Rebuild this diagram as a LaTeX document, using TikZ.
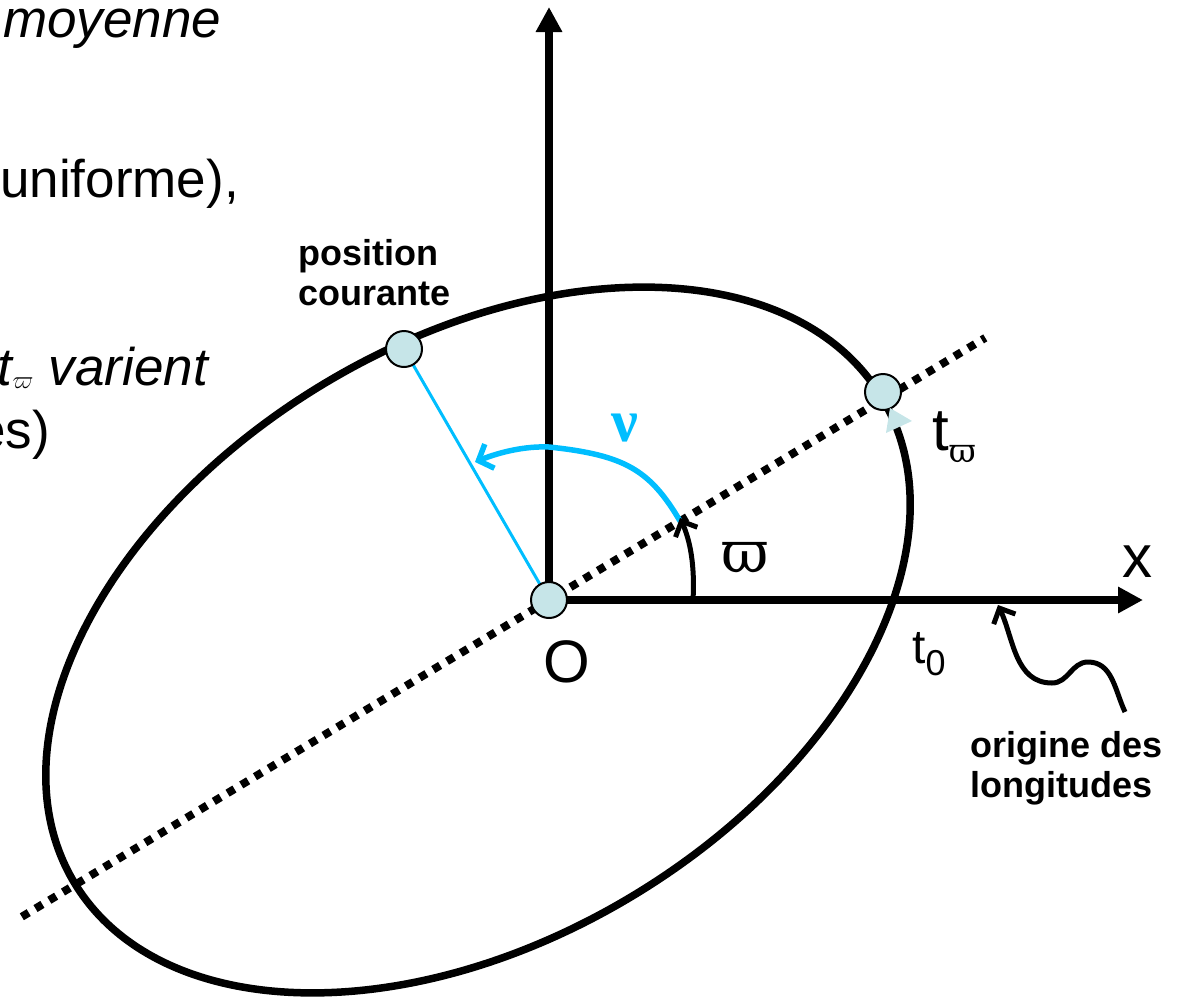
\documentclass[tikz,border=0pt]{standalone}
\usepackage{fontspec}
\setmainfont{Liberation Sans}
\newfontfamily\greekfont{DejaVu Serif}
\newfontfamily\nufont{Liberation Serif}
\usepackage{xcolor}
\usepackage{tikz}
\usetikzlibrary{arrows.meta, positioning, calc}

\definecolor{nucyan}{RGB}{0,190,255}
\definecolor{dotcyan}{RGB}{198,229,232}

\begin{document}
\begin{tikzpicture}[
    x=1pt, y=1pt,
    orbit/.style={draw=black, line width=7.5pt},
    axisline/.style={line width=8pt, -{Triangle[length=25pt, width=25pt]}},
    apsides/.style={line width=8pt, dash pattern=on 8pt off 8pt},
    body/.style={circle, draw=black, line width=2pt, fill=dotcyan, minimum size=36pt, inner sep=0pt},
    anglearc/.style={line width=5pt, -{Straight Barb[length=12pt, width=24pt]}},
    nuarc/.style={draw=nucyan, line width=5.5pt, -{Straight Barb[length=12pt, width=26pt]}},
    bigtxt/.style={font=\fontsize{60}{66}\selectfont, inner sep=0pt},
    sidetxt/.style={font=\fontsize{53}{60}\selectfont, inner sep=0pt},
    tag/.style={font=\fontsize{36}{40}\selectfont\bfseries, align=left, inner sep=0pt}
]
    \useasboundingbox (0,0) rectangle (1187,-997);

    % text running in from the left margin
    \node[sidetxt, anchor=base west] (moy) at (3,-37) {\itshape moyenne};
    \node[sidetxt, anchor=base west] (unif) at (0,-197) {uniforme),};
    \node[sidetxt, anchor=base east] (vari) at (208,-385) {\itshape t$_{\varpi}$ varient};
    \node[sidetxt, anchor=base east] (paren) at (50,-448) {es)};

    % orbit and line of apsides
    \coordinate (O) at (549,-600);
    \draw[orbit, rotate around={31:(478,-640)}] (478,-640) ellipse [x radius=471, y radius=299];
    \coordinate (apsA) at ($(O)+(31:509)$);
    \coordinate (apsB) at ($(O)+(211:615)$);
    \draw[apsides] (apsB) -- (apsA);

    % axes
    \coordinate (ytip) at (549,-7);
    \coordinate (xtip) at (1143,-600);
    \draw[axisline] (O) -- (ytip);
    \draw[axisline] (O) -- (xtip);

    % radius vector and angles
    \coordinate (nustart) at ($(O)+(31:153)$);
    \draw[draw=nucyan, line width=3pt] (O) -- (404,-349);
    \draw[nuarc] (nustart) .. controls (650,-470) and (625,-455) .. (549,-447)
        .. controls (525,-446) and (500,-452) .. (475,-462);
    \coordinate (wbase) at (693,-600);
    \draw[anglearc] (wbase) .. controls (695,-565) and (690,-540) .. (680,-518);

    % bodies
    \node[body] (pc) at (404,-349) {};
    \node[body] (peri) at (883,-392) {};
    \node[body] (Odot) at (O) {};
    \fill[dotcyan] (890,-408) -- (886,-433) -- (912,-421) -- cycle;

    % labels
    \node[bigtxt] (Olbl) at (567,-662) {O};
    \node[bigtxt] (xlbl) at (1137,-562) {x};
    \node[inner sep=0pt, font=\greekfont\fontsize{58}{58}\selectfont] (wlbl) at (745,-558) {ϖ};
    \node[inner sep=0pt, text=nucyan, font=\nufont\bfseries\fontsize{60}{60}\selectfont] (nulbl) at (625,-428) {ν};
    \node[inner sep=0pt, anchor=base west] (tw) at (932,-450)
        {\fontsize{60}{60}\selectfont t\raisebox{-12pt}{\greekfont\fontsize{33}{33}\selectfont ϖ}};
    \node[inner sep=0pt, anchor=base west] (t0) at (912,-663)
        {\fontsize{48}{48}\selectfont t\raisebox{-12pt}{\fontsize{36}{36}\selectfont 0}};
    \node[tag, anchor=north west] (pclbl) at (298,-239) {position\\courante};
    \node[tag, anchor=north west] (orig) at (970,-731) {origine des\\longitudes};

    % pointer to the origin of longitudes
    \coordinate (wstart) at (1125,-712);
    \coordinate (wtip) at (998,-605);
    \draw[anglearc] (wstart) to[out=115, in=0] (1088,-662) to[out=180, in=0] (1052,-683)
        to[out=180, in=-65] (wtip);
\end{tikzpicture}
\end{document}
